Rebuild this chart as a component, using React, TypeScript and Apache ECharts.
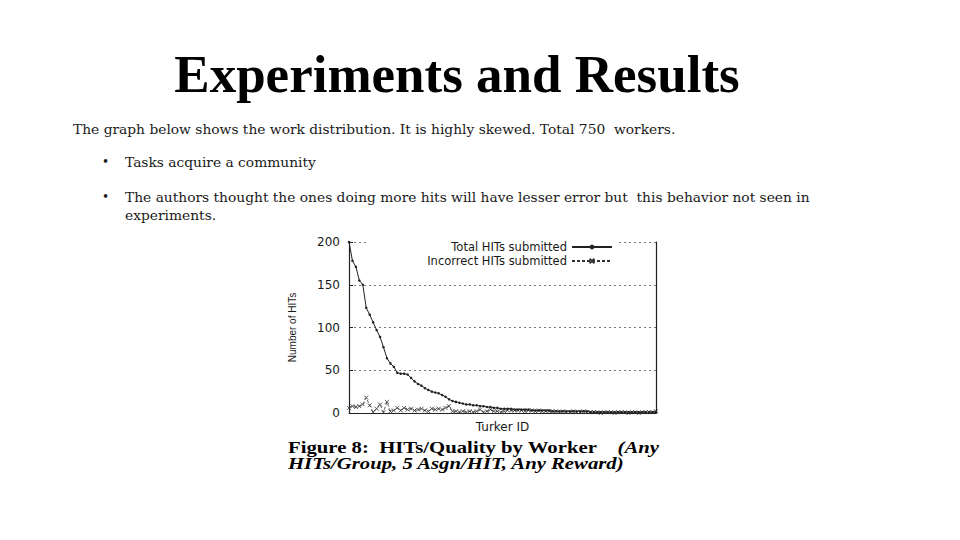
import { useEffect, useRef } from 'react';
import * as echarts from 'echarts';

// HITs per worker, sorted by total (~90 workers shown)
const totalHits = [
  200, 178, 171, 155, 150, 123, 115, 106, 97, 89,
  77, 64, 58, 54, 47, 46, 46, 45, 41, 37,
  34, 32, 29, 27, 25, 24, 23, 21, 19, 16,
  14, 13, 12, 11, 10, 10, 9, 9, 8, 8,
  7, 7, 6, 6, 5, 5, 5, 5, 4, 4,
  4, 4, 4, 3, 3, 3, 3, 3, 3, 2,
  2, 2, 2, 2, 2, 2, 2, 2, 2, 2,
  1, 1, 1, 1, 1, 1, 1, 1, 1, 1,
  1, 1, 1, 1, 1, 1, 1, 1, 1, 1,
];
const incorrectHits = [
  6, 8, 7, 8, 10, 18, 9, 1, 5, 10,
  1, 13, 2, 3, 6, 3, 6, 4, 5, 3,
  4, 5, 3, 2, 5, 4, 5, 4, 6, 8,
  2, 2, 1, 2, 1, 2, 1, 2, 4, 1,
  2, 4, 2, 2, 1, 2, 3, 3, 3, 3,
  3, 2, 3, 3, 2, 3, 2, 2, 2, 2,
  2, 1, 2, 1, 1, 2, 1, 1, 2, 1,
  1, 1, 1, 0, 1, 1, 1, 0, 1, 1,
  1, 0, 1, 1, 0, 1, 1, 1, 1, 2,
];
const turkerIds = totalHits.map((_, i) => String(i + 1));
const seriesNames = ['Total HITs submitted', 'Incorrect HITs submitted'];

const introLine = 'The graph below shows the work distribution. It is highly skewed. Total 750  workers.';
const bullets = [
  ['Tasks acquire a community'],
  [
    'The authors thought the ones doing more hits will have lesser error but  this behavior not seen in',
    'experiments.',
  ],
];

const SERIF = "'DejaVu Serif', serif";
const PLOT_FONT = "'DejaVu Sans', sans-serif";
const INK = '#1a1a1a';

function slideText(): any[] {
  const items: any[] = [
    {
      type: 'text',
      style: {
        text: 'Experiments and Results',
        x: 457,
        y: 74,
        align: 'center',
        verticalAlign: 'middle',
        font: "bold 53px 'Liberation Serif', 'Times New Roman', serif",
        fill: '#000',
      },
    },
    {
      type: 'text',
      style: {
        text: introLine,
        x: 73,
        y: 129,
        verticalAlign: 'middle',
        font: `13.8px ${SERIF}`,
        fill: INK,
      },
    },
  ];
  const rows = [162, 197];
  bullets.forEach((lines, b) => {
    items.push({
      type: 'text',
      style: { text: '•', x: 102, y: rows[b], verticalAlign: 'middle', font: `12px ${SERIF}`, fill: INK },
    });
    lines.forEach((line, k) => {
      items.push({
        type: 'text',
        style: {
          text: line,
          x: 125,
          y: rows[b] + k * 18,
          verticalAlign: 'middle',
          font: `13.8px ${SERIF}`,
          fill: INK,
        },
      });
    });
  });

  // the figure caption is a stretched scan, hence scaleX
  const cap = "bold 17px 'Liberation Serif', 'Times New Roman', serif";
  const capItalic = "italic bold 17px 'Liberation Serif', 'Times New Roman', serif";
  const stretch = 1.22;
  items.push(
    {
      type: 'text',
      x: 288,
      y: 447,
      scaleX: stretch,
      style: { text: 'Figure 8:  HITs/Quality by Worker', x: 0, y: 0, verticalAlign: 'middle', font: cap, fill: '#000' },
    },
    {
      type: 'text',
      x: 659,
      y: 447,
      scaleX: stretch,
      style: { text: '(Any', x: 0, y: 0, align: 'right', verticalAlign: 'middle', font: capItalic, fill: '#000' },
    },
    {
      type: 'text',
      x: 288,
      y: 463,
      scaleX: stretch,
      style: { text: 'HITs/Group, 5 Asgn/HIT, Any Reward)', x: 0, y: 0, verticalAlign: 'middle', font: capItalic, fill: '#000' },
    },
  );
  return items;
}

export default function App() {
  const chartRef = useRef<HTMLDivElement | null>(null);

  useEffect(() => {
    if (!chartRef.current) return;
    const chart = echarts.init(chartRef.current, undefined, { renderer: 'svg' });

    chart.setOption({
      animation: false,
      backgroundColor: '#fff',
      graphic: slideText(),
      grid: { left: 349, right: 304, top: 242, bottom: 127 },
      legend: {
        orient: 'vertical',
        right: 343,
        top: 241,
        align: 'right',
        itemGap: 2,
        itemWidth: 40,
        itemHeight: 6,
        padding: [0, 4, 2, 60],
        backgroundColor: '#fff',
        textStyle: { fontFamily: PLOT_FONT, fontSize: 11.5, color: INK, lineHeight: 11 },
        data: seriesNames,
      },
      xAxis: {
        type: 'category',
        data: turkerIds,
        boundaryGap: false,
        name: 'Turker ID',
        nameLocation: 'middle',
        nameGap: 8,
        nameTextStyle: { fontFamily: PLOT_FONT, fontSize: 12, color: INK },
        axisLine: { lineStyle: { color: '#222', width: 1.2 } },
        axisTick: { show: false },
        axisLabel: { show: false },
      },
      yAxis: [
        {
          type: 'value',
          min: 0,
          max: 200,
          interval: 50,
          name: 'Number of HITs',
          nameLocation: 'middle',
          nameGap: 52,
          nameTextStyle: { fontFamily: "'Liberation Sans', sans-serif", fontSize: 10, color: INK },
          axisLine: { show: true, lineStyle: { color: '#222', width: 1.2 } },
          axisTick: { show: true, inside: true, length: 4, lineStyle: { color: '#222' } },
          axisLabel: { fontFamily: PLOT_FONT, fontSize: 12, color: INK, margin: 9 },
          splitLine: { lineStyle: { color: '#777', type: [2, 3], width: 1 } },
        },
        {
          type: 'value',
          position: 'right',
          min: 0,
          max: 200,
          interval: 50,
          axisLine: { show: true, lineStyle: { color: '#222', width: 1.2 } },
          axisTick: { show: false },
          axisLabel: { show: false },
          splitLine: { show: false },
        },
      ],
      series: [
        {
          name: seriesNames[0],
          type: 'line',
          data: totalHits,
          showAllSymbol: true,
          symbol: 'circle',
          symbolSize: 2.5,
          lineStyle: { color: '#222', width: 1 },
          itemStyle: { color: '#222' },
          z: 3,
        },
        {
          name: seriesNames[1],
          type: 'line',
          data: incorrectHits,
          showAllSymbol: true,
          symbol: 'path://M0,0L10,10M10,0L0,10',
          symbolSize: 4,
          lineStyle: { color: '#333', width: 0.8, type: [3, 2] },
          itemStyle: { color: '#333', borderColor: '#333', borderWidth: 0.8 },
          z: 2,
        },
      ],
    });

    return () => chart.dispose();
  }, []);

  return (
    <div
      ref={chartRef}
      style={{ position: 'absolute', left: 0, top: 0, width: 960, height: 540, background: '#fff' }}
    />
  );
}
